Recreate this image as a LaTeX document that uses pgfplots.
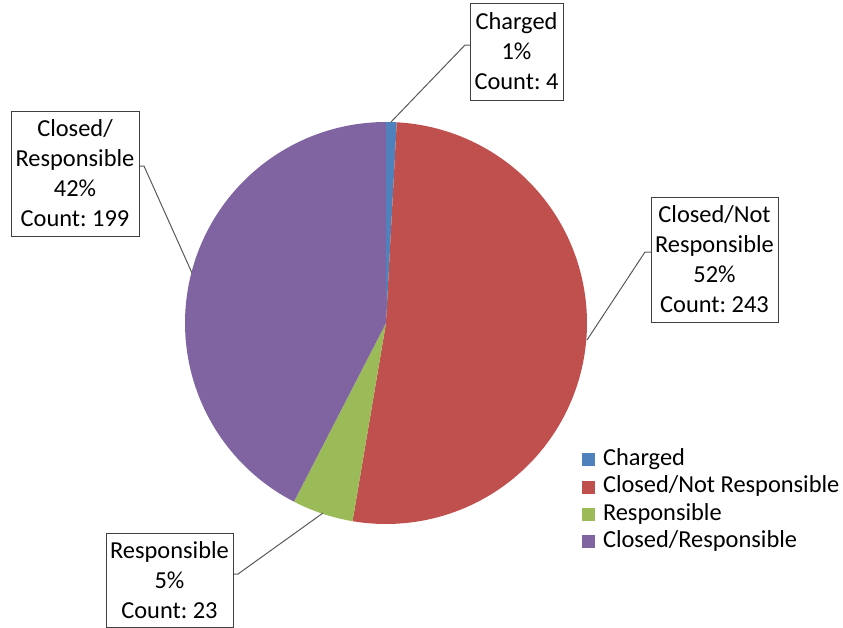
\documentclass[border=0pt]{standalone}
\usepackage{fontspec}
\setmainfont{Carlito}
\usepackage{pgfplots}
\usepackage{pgfplotstable}
\pgfplotsset{compat=1.18}
\definecolor{cCharged}{HTML}{4F81BD}
\definecolor{cNotResp}{HTML}{C0504D}
\definecolor{cResp}{HTML}{9BBB59}
\definecolor{cClosedResp}{HTML}{8064A2}
\pgfplotstableread{
label count
Charged 4
ClosedNotResponsible 243
Responsible 23
ClosedResponsible 199
}\piedata
\begin{document}%
\begin{tikzpicture}
\pgfplotstablegetelem{0}{count}\of\piedata\let\cA\pgfplotsretval
\pgfplotstablegetelem{1}{count}\of\piedata\let\cB\pgfplotsretval
\pgfplotstablegetelem{2}{count}\of\piedata\let\cC\pgfplotsretval
\pgfplotstablegetelem{3}{count}\of\piedata\let\cD\pgfplotsretval
\pgfmathsetmacro\tot{\cA+\cB+\cC+\cD}
\pgfmathsetmacro\aA{90}
\pgfmathsetmacro\aB{\aA-360*(\cA/\tot)}
\pgfmathsetmacro\aC{\aB-360*(\cB/\tot)}
\pgfmathsetmacro\aD{\aC-360*(\cC/\tot)}
\pgfmathsetmacro\aE{\aD-360*(\cD/\tot)}
\begin{axis}[
  scale only axis, width=632.25pt, height=471pt,
  xmin=0, xmax=843, ymin=0, ymax=628, y dir=reverse,
  hide axis, clip=false,
  legend style={at={(axis cs:582,448)}, anchor=north west, draw=none, fill=none,
    inner sep=0pt, outer sep=0pt, row sep=0pt, column sep=6pt,
    font=\fontsize{18.3}{20.5}\selectfont,
    nodes={inner sep=0pt, text height=13.2pt, text depth=7.3pt}},
  legend cell align=left,
  legend image code/.code={\fill[#1] (0pt,-3.4pt) rectangle (9.75pt,6.35pt);},
]
\addplot[fill=cCharged, draw=none, domain=\aB:\aA, samples=10, variable=\t]
  ({386+201*cos(t)},{323-201*sin(t)}) -- (386,323) -- cycle;
\addlegendentry{Charged}
\addplot[fill=cNotResp, draw=none, domain=\aC:\aB, samples=120, variable=\t]
  ({386+201*cos(t)},{323-201*sin(t)}) -- (386,323) -- cycle;
\addlegendentry{Closed/Not Responsible}
\addplot[fill=cResp, draw=none, domain=\aD:\aC, samples=20, variable=\t]
  ({386+201*cos(t)},{323-201*sin(t)}) -- (386,323) -- cycle;
\addlegendentry{Responsible}
\addplot[fill=cClosedResp, draw=none, domain=\aE:\aD, samples=100, variable=\t]
  ({386+201*cos(t)},{323-201*sin(t)}) -- (386,323) -- cycle;
\addlegendentry{Closed/Responsible}

\draw[black!65, line width=0.75pt] (470,45) -- (465,45) -- (391,122);
\draw[black!65, line width=0.75pt] (139,166) -- (144,166) -- (192,273);
\draw[black!65, line width=0.75pt] (651,252) -- (645,252) -- (587,340);
\draw[black!65, line width=0.75pt] (233,574) -- (238,574) -- (323,513);

\tikzset{lbl/.style={draw=black!75, fill=white, line width=0.75pt, inner sep=0pt, align=center,
  font=\fontsize{18.3}{22.5}\selectfont\frenchspacing}}
\node[lbl, minimum width=69.75pt, minimum height=72.75pt] at (516.5,51.5) {Charged\\1\%\\Count: 4};
\node[lbl, minimum width=96pt, minimum height=93.75pt] at (75,173.5) {Closed/\\Responsible\\42\%\\Count: 199};
\node[lbl, minimum width=95.25pt, minimum height=93.75pt] at (714.5,259.5) {Closed/Not\\Responsible\\52\%\\Count: 243};
\node[lbl, minimum width=95.25pt, minimum height=70.5pt] at (169.5,580) {Responsible\\5\%\\Count: 23};
\end{axis}
\pgfresetboundingbox
\path[use as bounding box] (0,0) rectangle (632.25pt,471pt);
\end{tikzpicture}%
\end{document}
